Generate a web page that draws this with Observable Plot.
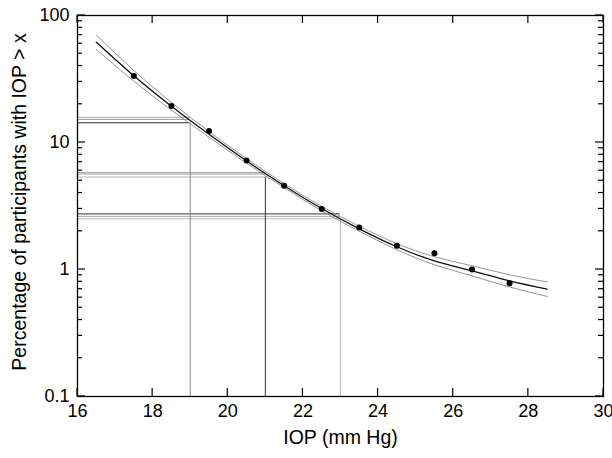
<!DOCTYPE html>
<html><head><meta charset="utf-8">
<script src="https://cdn.jsdelivr.net/npm/d3@7"></script>
<script src="https://cdn.jsdelivr.net/npm/@observablehq/plot@0.6"></script>
<style>body{margin:0;background:#fff} svg{display:block}</style>
</head><body><div id="chart"></div>
<script>
// Observed data points
const pointIOP = [17.5, 18.5, 19.5, 20.5, 21.5, 22.5, 23.5, 24.5, 25.5, 26.5, 27.5];
const pointPct = [33.4, 19.4, 12.3, 7.2, 4.57, 3.0, 2.14, 1.54, 1.34, 1.0, 0.78];

// Fitted curve and confidence bands
const curveIOP   = [16.5, 17.5, 18.5, 19.5, 20.5, 21.5, 22.5, 23.5, 24.5, 25.5, 26.5, 27.5, 28.5];
const curveMid   = [61.7, 33.5, 19.3, 11.6, 7.16, 4.57, 3.02, 2.09, 1.51, 1.17, 0.977, 0.813, 0.700];
const curveUpper = [70.3, 36.9, 20.7, 12.2, 7.46, 4.74, 3.14, 2.19, 1.60, 1.26, 1.07, 0.908, 0.798];
const curveLower = [54.1, 30.4, 18.0, 11.0, 6.87, 4.41, 2.90, 2.00, 1.43, 1.09, 0.891, 0.728, 0.614];

// Reference lines (IOP thresholds and their percentages)
const refIOP = [19, 21, 23];
const refPctA = [15.8, 5.80, 2.74];
const refPctB = [15.2, 5.65, 2.62];
const refPctC = [14.3, 5.35, 2.51];

// Axis ticks
const xTicks = [16, 18, 20, 22, 24, 26, 28, 30];
const yTicks = [0.1, 1, 10, 100];
const yMinor = [0.2,0.3,0.4,0.5,0.6,0.7,0.8,0.9, 2,3,4,5,6,7,8,9, 20,30,40,50,60,70,80,90];

const W = 612, H = 458, ML = 77, MR = 9, MT = 15, MB = 62;

const curve = curveIOP.map((x, i) => ({x, mid: curveMid[i], up: curveUpper[i], lo: curveLower[i]}));
const points = pointIOP.map((x, i) => ({x, y: pointPct[i]}));
const refs = refIOP.map((x, i) => ({x, a: refPctA[i], b: refPctB[i], c: refPctC[i]}));
const hColors = [["#aaa", "#999", "#333"], ["#aaa", "#999", "#bbb"], ["#333", "#aaa", "#bbb"]];
const vColors = ["#888", "#333", "#bbb"];

const font = "Liberation Sans, Arial, sans-serif";

// inward frame ticks, positioned through the plot's own scales
function inwardTicks(index, scales, values, dims) {
  const g = d3.create("svg:g").attr("stroke", "#000").attr("stroke-width", 1.2).attr("fill", "none");
  const L = dims.marginLeft, R = dims.width - dims.marginRight;
  const T = dims.marginTop, B = dims.height - dims.marginBottom;
  const addY = (vals, len) => vals.forEach(v => {
    const y = scales.y(v);
    g.append("line").attr("x1", L).attr("x2", L + len).attr("y1", y).attr("y2", y);
    g.append("line").attr("x1", R).attr("x2", R - len).attr("y1", y).attr("y2", y);
  });
  addY(yTicks, 8);
  addY(yMinor, 5);
  xTicks.forEach(v => {
    const x = scales.x(v);
    g.append("line").attr("x1", x).attr("x2", x).attr("y1", B).attr("y2", B - 8);
    g.append("line").attr("x1", x).attr("x2", x).attr("y1", T).attr("y2", T + 8);
  });
  return g.node();
}

const plot = Plot.plot({
  width: W, height: H,
  marginLeft: ML, marginRight: MR, marginTop: MT, marginBottom: MB,
  style: {fontFamily: font, fontSize: "18px", background: "#fff", color: "#000"},
  x: {domain: [16, 30], label: null},
  y: {type: "log", domain: [0.1, 100], label: null},
  marks: [
    // reference lines
    Plot.ruleY(refs, {y: "a", x1: 16, x2: "x", stroke: (d, i) => hColors[i][0], strokeWidth: 1}),
    Plot.ruleY(refs, {y: "b", x1: 16, x2: "x", stroke: (d, i) => hColors[i][1], strokeWidth: 1}),
    Plot.ruleY(refs, {y: "c", x1: 16, x2: "x", stroke: (d, i) => hColors[i][2], strokeWidth: 1}),
    Plot.ruleX(refs, {x: "x", y1: 0.1, y2: "c", stroke: (d, i) => vColors[i], strokeWidth: 1}),
    // bands and curve
    Plot.line(curve, {x: "x", y: "up", stroke: "#888", strokeWidth: 0.9, curve: "natural"}),
    Plot.line(curve, {x: "x", y: "lo", stroke: "#888", strokeWidth: 0.9, curve: "natural"}),
    Plot.line(curve, {x: "x", y: "mid", stroke: "#111", strokeWidth: 1.3, curve: "natural"}),
    Plot.dot(points, {x: "x", y: "y", r: 3, fill: "#000", stroke: null}),
    inwardTicks,
    // tick labels
    Plot.axisX(xTicks, {anchor: "bottom", tickSize: 0, tickPadding: 8, label: null, fontSize: 18}),
    Plot.axisY(yTicks, {anchor: "left", tickSize: 0, tickPadding: 8, label: null, tickFormat: d => String(d), fontSize: 18}),
    Plot.frame({stroke: "#000", strokeWidth: 1.3}),
    Plot.text(["IOP (mm Hg)"], {frameAnchor: "bottom", dy: 41, fontSize: 19.5, textAnchor: "middle", lineAnchor: "middle"}),
    Plot.text(["Percentage of participants with IOP > x"], {frameAnchor: "left", dx: -58, dy: -4, rotate: -90, fontSize: 19.5, textAnchor: "middle", lineAnchor: "middle"})
  ]
});
document.getElementById("chart").appendChild(plot);
</script>
</body></html>
